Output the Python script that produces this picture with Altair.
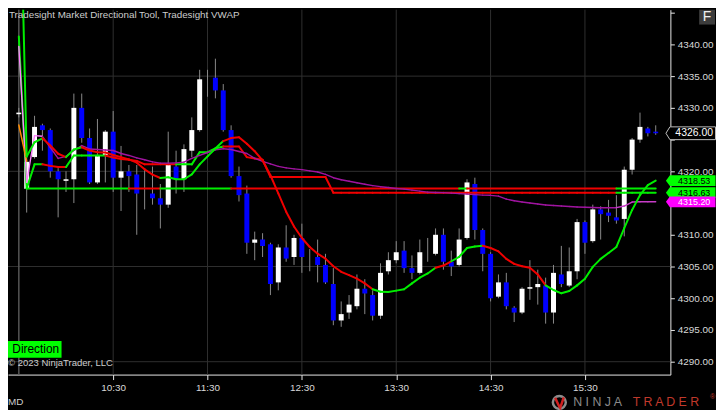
import altair as alt
import pandas as pd

FONT = "Liberation Sans, Arial, sans-serif"

# ---------------- data ----------------
session_open = 570          # 9:30 in minutes
bar_minutes = 5

opens = [4329.0, 4317.25, 4322.25, 4327.25, 4326.5, 4320.0, 4318.5, 4318.75, 4330.0, 4325.25,
         4318.25, 4322.5, 4326.25, 4319.0, 4320.0, 4319.5, 4317.25, 4316.5, 4315.75, 4314.75,
         4320.75, 4318.75, 4323.25, 4326.5, 4334.5, 4334.75, 4332.75, 4326.5, 4319.25, 4316.5,
         4308.75, 4309.25, 4308.5, 4302.5, 4308.0, 4306.5, 4309.5, 4306.75, 4306.5, 4305.25,
         4302.25, 4296.5, 4297.75, 4298.75, 4301.5, 4300.5, 4297.25, 4304.25, 4306.0, 4307.5,
         4304.75, 4304.0, 4307.5, 4307.0, 4310.0, 4305.75, 4305.25, 4309.5, 4318.0, 4310.75,
         4307.0, 4300.25, 4302.5, 4298.5, 4297.75, 4301.5, 4301.75, 4302.0, 4297.75, 4303.75,
         4302.0, 4304.25, 4312.0, 4309.0, 4314.0, 4313.5, 4312.75, 4312.5, 4320.25, 4325.0,
         4326.75, 4326.25]
highs = [4330.0, 4322.5, 4328.75, 4327.5, 4326.75, 4320.5, 4320.0, 4332.25, 4332.25, 4326.75,
         4328.25, 4326.5, 4329.5, 4324.0, 4321.0, 4321.0, 4320.5, 4320.75, 4318.0, 4326.25,
         4323.25, 4324.25, 4328.5, 4336.0, 4336.0, 4337.75, 4333.75, 4327.25, 4320.75, 4317.75,
         4310.5, 4310.25, 4308.75, 4308.5, 4311.5, 4310.0, 4311.75, 4307.75, 4309.25, 4307.0,
         4304.75, 4299.5, 4300.5, 4303.75, 4303.0, 4301.25, 4305.5, 4307.25, 4309.0, 4309.0,
         4306.75, 4309.25, 4309.5, 4311.0, 4311.0, 4307.5, 4311.0, 4318.75, 4319.0, 4311.0,
         4307.25, 4303.75, 4304.0, 4298.75, 4301.75, 4306.0, 4304.5, 4303.25, 4305.25, 4308.25,
         4308.0, 4312.5, 4312.25, 4314.75, 4314.5, 4315.5, 4316.25, 4320.75, 4325.25, 4329.25,
         4327.0, 4327.25]
lows = [4328.5, 4313.5, 4322.0, 4323.25, 4319.0, 4312.75, 4316.75, 4315.0, 4324.5, 4318.0,
        4318.0, 4318.25, 4316.75, 4313.75, 4316.75, 4310.0, 4314.0, 4314.75, 4311.0, 4314.25,
        4316.5, 4316.75, 4322.25, 4326.25, 4331.75, 4331.5, 4326.25, 4319.0, 4315.25, 4307.0,
        4306.0, 4306.5, 4300.5, 4301.25, 4305.75, 4305.25, 4304.0, 4304.25, 4302.5, 4302.25,
        4295.75, 4295.5, 4296.75, 4298.25, 4297.5, 4296.5, 4296.75, 4303.75, 4305.5, 4304.0,
        4303.0, 4303.75, 4305.75, 4306.75, 4304.5, 4303.5, 4305.0, 4309.25, 4309.25, 4304.25,
        4299.5, 4300.0, 4298.25, 4296.25, 4297.5, 4299.75, 4299.0, 4296.0, 4296.0, 4301.75,
        4301.75, 4303.0, 4307.0, 4308.75, 4309.25, 4312.0, 4311.75, 4309.75, 4319.5, 4324.5,
        4325.5, 4325.75]
closes = [4329.25, 4321.5, 4327.0, 4326.5, 4320.0, 4318.75, 4318.75, 4330.0, 4325.25, 4318.25,
          4322.5, 4326.25, 4319.0, 4320.0, 4319.25, 4316.5, 4317.25, 4315.75, 4314.75, 4321.0,
          4318.75, 4323.5, 4326.5, 4334.5, 4334.5, 4332.75, 4326.5, 4319.25, 4316.25, 4308.75,
          4309.25, 4308.25, 4302.25, 4308.0, 4306.25, 4309.5, 4306.5, 4306.75, 4305.25, 4302.5,
          4296.5, 4297.5, 4299.0, 4301.5, 4300.75, 4297.25, 4304.0, 4306.0, 4307.25, 4304.75,
          4304.0, 4307.25, 4307.5, 4310.0, 4305.75, 4305.0, 4309.25, 4318.25, 4310.75, 4307.0,
          4300.0, 4302.5, 4298.75, 4297.75, 4301.5, 4301.75, 4302.25, 4297.75, 4304.0, 4302.25,
          4304.25, 4312.0, 4308.75, 4314.0, 4313.25, 4313.0, 4312.25, 4320.25, 4325.0, 4327.0,
          4326.0, 4326.0]

# Directional line (bars 0..81)
dir_line = [4374.5, 4322.35, 4324.58, 4325.2, 4324.06, 4322.77, 4322.24, 4323.44, 4323.8, 4323.28,
            4323.02, 4322.97, 4322.58, 4322.24, 4321.88, 4321.36, 4320.31, 4319.48, 4318.95, 4319.06,
            4318.75, 4318.75, 4319.53, 4321.1, 4322.35, 4323.6, 4324.77, 4325.24, 4325.36, 4324.33,
            4323.17, 4321.72, 4319.38, 4316.52, 4313.64, 4311.3, 4309.49, 4308.08, 4307.03, 4306.25,
            4305.05, 4304.17, 4303.64, 4303.08, 4302.34, 4301.41, 4301.02, 4300.99, 4301.2, 4301.41,
            4302.34, 4303.24, 4303.91, 4304.8, 4305.16, 4305.83, 4306.52, 4307.92, 4308.17, 4308.28,
            4307.92, 4307.39, 4306.2, 4305.42, 4305.05, 4304.8, 4303.75, 4302.03, 4301.3, 4300.78,
            4301.14, 4302.03, 4303.08, 4304.95, 4306.2, 4307.14, 4308.08, 4311.05, 4313.91, 4316.25,
            4317.81, 4318.53]
dir_runs = [(0, "g"), (3, "r"), (6, "g"), (8, "r"), (18, "g"), (26, "r"), (45, "g"),
            (53, "r"), (55, "g"), (59, "r"), (67, "g")]

# Stepped level (bars 0..81)
step_line = [4341.25,
             4317.3, 4321.1, 4321.1, 4320.86, 4320.67, 4320.67, 4322.5, 4322.5, 4322.5, 4322.5,
             4322.5, 4322.19, 4321.95, 4321.83, 4321.64, 4321.1, 4321.1, 4321.1, 4321.1, 4321.1,
             4321.1, 4321.1, 4323.02, 4323.02, 4323.6, 4323.91, 4323.91, 4323.91, 4322.24, 4322.03,
             4321.83, 4319.11, 4319.11, 4319.11, 4319.11, 4319.11, 4319.11, 4319.11, 4319.11, 4316.63,
             4316.63, 4316.63, 4316.63, 4316.63, 4316.63, 4316.63, 4316.63, 4316.63, 4316.63, 4316.63,
             4316.63, 4316.63, 4316.63, 4316.63, 4316.63, 4316.63, 4316.63, 4316.63, 4316.63, 4316.63,
             4316.63, 4316.63, 4316.63, 4316.63, 4316.63, 4316.63, 4316.63, 4316.63, 4316.63, 4316.63,
             4316.63, 4316.63, 4316.63, 4316.63, 4316.63, 4316.63, 4316.63, 4316.63, 4316.63, 4316.63,
             4316.63]
step_runs = [(0, "g"), (3, "r"), (6, "g"), (11, "r"), (20, "g"), (26, "r"), (76, "g")]

# Flat level (bars 1..81), coloured runs
flat_level = 4317.3
flat_runs = [(1, 14, "g"), (14, 18, "r"), (18, 27, "g"), (27, 56, "r"), (56, 57, "g"),
             (57, 76, "r"), (76, 81, "g")]

# VWAP (bars 0..81)
vwap = [4339.69, 4318.28, 4325.63, 4325.52, 4323.75, 4322.03, 4322.35, 4323.28, 4324.06, 4323.52,
        4323.44, 4323.36, 4323.28, 4322.81, 4322.5, 4322.11, 4321.83, 4321.48, 4321.3, 4321.3,
        4321.33, 4321.45, 4322.03, 4322.5, 4322.97, 4323.39, 4323.55, 4323.44, 4323.13, 4322.81,
        4322.03, 4321.56, 4321.17, 4320.78, 4320.55, 4320.39, 4320.27, 4320.08, 4319.89, 4319.53,
        4318.99, 4318.67, 4318.44, 4318.2, 4317.97, 4317.74, 4317.58, 4317.45, 4317.3, 4317.19,
        4317.03, 4316.88, 4316.72, 4316.67, 4316.64, 4316.56, 4316.48, 4316.41, 4316.33, 4316.25,
        4316.22, 4316.1, 4315.63, 4315.36, 4315.16, 4315.0, 4314.85, 4314.69, 4314.61, 4314.53,
        4314.45, 4314.38, 4314.33, 4314.3, 4314.27, 4314.27, 4314.27, 4314.53, 4315.16, 4315.2,
        4315.2, 4315.2]
vwap_runs = [(0, "p"), (3, "v"), (76, "m")]

orange_line = [4327.3, 4321.6]   # bars 0..1

price_ticks = [4290, 4295, 4300, 4305, 4310, 4315, 4320, 4325, 4330, 4335, 4340, 4345]
hidden_price_labels = [4315, 4325, 4345]   # covered by price tags / button in the original
grid_prices = [4290, 4305, 4320, 4335]
time_ticks = [630, 690, 750, 810, 870, 930]
time_labels = ["10:30", "11:30", "12:30", "13:30", "14:30", "15:30"]

# ---------------- styles ----------------
COL = {"g": "#00ee00", "r": "#f00000", "p": "#ff80ff", "v": "#a014a0", "m": "#c83cc8"}
x_domain = [566.27, 981.18]
y_domain = [4287.97, 4345.47]
W, H = 668, 368

n = len(opens)
times = [session_open + bar_minutes * i for i in range(n)]

xs = alt.Scale(domain=x_domain, nice=False, zero=False)
ys = alt.Scale(domain=y_domain, nice=False, zero=False)

label_expr = " : ".join(
    f"datum.value == {v} ? '{l}'" for v, l in zip(time_ticks, time_labels)) + " : ''"
hide_expr = " || ".join(f"datum.value == {v}" for v in hidden_price_labels)
AX = dict(domainColor="#e8e8e8", tickColor="#e8e8e8", labelColor="#d8d8d8",
          labelFont=FONT, labelFontSize=10, grid=False, title=None, labelFlush=False,
          labelOverlap=False)
XAX = alt.Axis(values=time_ticks, labelExpr=label_expr, orient="bottom",
               tickSize=5, labelPadding=3, **AX)
YAX = alt.Axis(values=price_ticks, orient="right", tickSize=4, labelPadding=3,
               labelExpr=f"({hide_expr}) ? '' : format(datum.value, '.2f')", **AX)


def X(f):
    return alt.X(f, scale=xs, axis=XAX)


def Y(f):
    return alt.Y(f, scale=ys, axis=YAX)


def segs(values, first_bar, runs):
    rows = []
    for k in range(len(values) - 1):
        i = first_bar + k
        col = None
        for rb, rc in runs:
            if rb <= i:
                col = rc
        rows.append({"x0": times[i], "y0": values[k], "x1": times[i + 1],
                     "y1": values[k + 1], "c": COL[col]})
    return pd.DataFrame(rows)


def seg_layer(df, width):
    return alt.Chart(df).mark_rule(strokeWidth=width, strokeCap="round", clip=True).encode(
        x=X("x0:Q"), y=Y("y0:Q"), x2="x1:Q", y2="y1:Q",
        color=alt.Color("c:N", scale=None),
    )


candles = pd.DataFrame({"t": times, "open": opens, "high": highs, "low": lows, "close": closes})
candles["dir"] = ["up" if c >= o else "down" for o, c in zip(opens, closes)]

vgrid = alt.Chart(pd.DataFrame({"t": time_ticks})).mark_rule(
    color="#303030", strokeWidth=1).encode(x=X("t:Q"))
hgrid = alt.Chart(pd.DataFrame({"p": grid_prices})).mark_rule(
    color="#303030", strokeWidth=1).encode(y=Y("p:Q"))
session = alt.Chart(pd.DataFrame({"t": [session_open]})).mark_rule(
    color="#555555", strokeWidth=1.5).encode(x=X("t:Q"))

wicks = alt.Chart(candles).mark_rule(color="#8a8a8a", strokeWidth=1).encode(
    x=X("t:Q"), y=Y("low:Q"), y2="high:Q")
bodies = alt.Chart(candles).mark_bar(width=5).encode(
    x=X("t:Q"), y=Y("open:Q"), y2="close:Q",
    color=alt.Color("dir:N", scale=alt.Scale(domain=["up", "down"], range=["#ffffff", "#0000ff"]),
                    legend=None),
)

flat_df = pd.DataFrame([{"x0": times[s], "y0": flat_level, "x1": times[e], "y1": flat_level,
                         "c": COL[c]} for s, e, c in flat_runs])

flat_l = seg_layer(flat_df, 2)
step_l = seg_layer(segs(step_line, 0, step_runs), 2)
vwap_l = seg_layer(segs(vwap, 0, vwap_runs), 1.4)
dir_l = seg_layer(segs(dir_line, 0, dir_runs), 2)
orange_l = seg_layer(pd.DataFrame([{"x0": times[0], "y0": orange_line[0], "x1": times[1],
                                    "y1": orange_line[1], "c": "#ff8c00"}]), 1.5)

# price tags on the axis
tags = pd.DataFrame({
    "v": [dir_line[-1], step_line[-1], vwap[-1]],
    "fill": ["#00ff00", "#00ff00", "#ff00ff"],
    "tc": ["#000000", "#000000", "#ffffff"],
    "dy": [2.0, 0.6, 2.3],
})
tags["label"] = [f"{v:.2f}" for v in tags["v"]]
last = pd.DataFrame({"v": [closes[-1]]})
last["label"] = [f"{v:.2f}" for v in last["v"]]

TAG = "M -1.174 0 L -1 -0.235 L 1 -0.235 L 1 0.235 L -1 0.235 Z"
TAG_BIG = "M -1.174 0 L -1 -0.28 L 1 -0.28 L 1 0.28 L -1 0.28 Z"
TAG_X, TXT_X, TAG_SIZE = 690.5, 692, 2116

last_shape = alt.Chart(last).mark_point(shape=TAG_BIG, size=TAG_SIZE, filled=True, opacity=1,
                                        fill="#000000", stroke="#bdbdbd", strokeWidth=1).encode(
    x=alt.value(TAG_X), y=Y("v:Q"))
last_text = alt.Chart(last).mark_text(font=FONT, fontSize=10.5, color="#ffffff").encode(
    x=alt.value(TXT_X), y=Y("v:Q"), text="label:N")
tag_shape = alt.Chart(tags).mark_point(shape=TAG, size=TAG_SIZE, filled=True, opacity=1,
                                       strokeWidth=0).encode(
    x=alt.value(TAG_X), y=Y("v:Q"), yOffset=alt.YOffset("dy:Q", scale=None),
    fill=alt.Color("fill:N", scale=None))
tag_text = alt.Chart(tags).mark_text(font=FONT, fontSize=9).encode(
    x=alt.value(TXT_X), y=Y("v:Q"), yOffset=alt.YOffset("dy:Q", scale=None),
    text="label:N", color=alt.Color("tc:N", scale=None))

one = pd.DataFrame({"a": [0]})


def txt(s, x, y, size=10, color="#cdcdcd", align="left"):
    return alt.Chart(one).mark_text(font=FONT, fontSize=size, color=color, align=align,
                                    baseline="middle").encode(
        x=alt.value(x), y=alt.value(y), text=alt.value(s))


def box(x0, x1, y0, y1, fill):
    return alt.Chart(one).mark_rect(color=fill).encode(
        x=alt.value(x0), x2=alt.value(x1), y=alt.value(y0), y2=alt.value(y1))


LOGO_Y = 396
title_t = txt("Tradesight Market Directional Tool, Tradesight VWAP", 1, 5, 9.9)
copy_t = txt("© 2023 NinjaTrader, LLC", 0, 356.5, 9.6)
dir_box = box(0, 54, 334, 351, "#00ff00")
dir_t = txt("Direction", 28, 342.5, 12, "#000000", "center")
md_t = txt("MD", 0, 396, 10)
f_box = box(697, 713, 0, 15, "#3c3c3c")
f_t = txt("F", 705, 7, 14, "#f0f0f0", "center")

logo_ring = alt.Chart(one).mark_point(shape="circle", size=170, filled=False, opacity=1,
                                      stroke="#8c8c8c", strokeWidth=2.5).encode(
    x=alt.value(556), y=alt.value(LOGO_Y))
logo_swoosh = alt.Chart(one).mark_point(
    shape="M -0.7 -0.8 Q -0.2 0.4 0.15 0.95 Q 0.45 0.1 0.75 -0.85", size=140, filled=False,
    opacity=1, stroke="#d02020", strokeWidth=2.5).encode(x=alt.value(556), y=alt.value(LOGO_Y))
ninja_t = txt("N I N J A", 570, LOGO_Y, 12.5, "#8a8a8a")
trader_t = txt("T R A D E R", 630, LOGO_Y, 12.5, "#c0392b")
reg_t = txt("®", 708, LOGO_Y - 5, 7, "#c0392b")

chart = alt.layer(
    vgrid, hgrid, session, wicks, bodies, flat_l, step_l, vwap_l, orange_l, dir_l,
    last_shape, last_text, tag_shape, tag_text,
    title_t, copy_t, dir_box, dir_t, md_t, f_box, f_t,
    logo_ring, logo_swoosh, ninja_t, trader_t, reg_t,
).properties(
    width=W, height=H,
    autosize=alt.AutoSizeParams(type="none"),
    padding={"left": 0, "top": 0, "right": 46, "bottom": 34},
).configure(background="#000000").configure_view(stroke=None)

chart.save("out.html", embed_options={"renderer": "svg", "actions": False})
